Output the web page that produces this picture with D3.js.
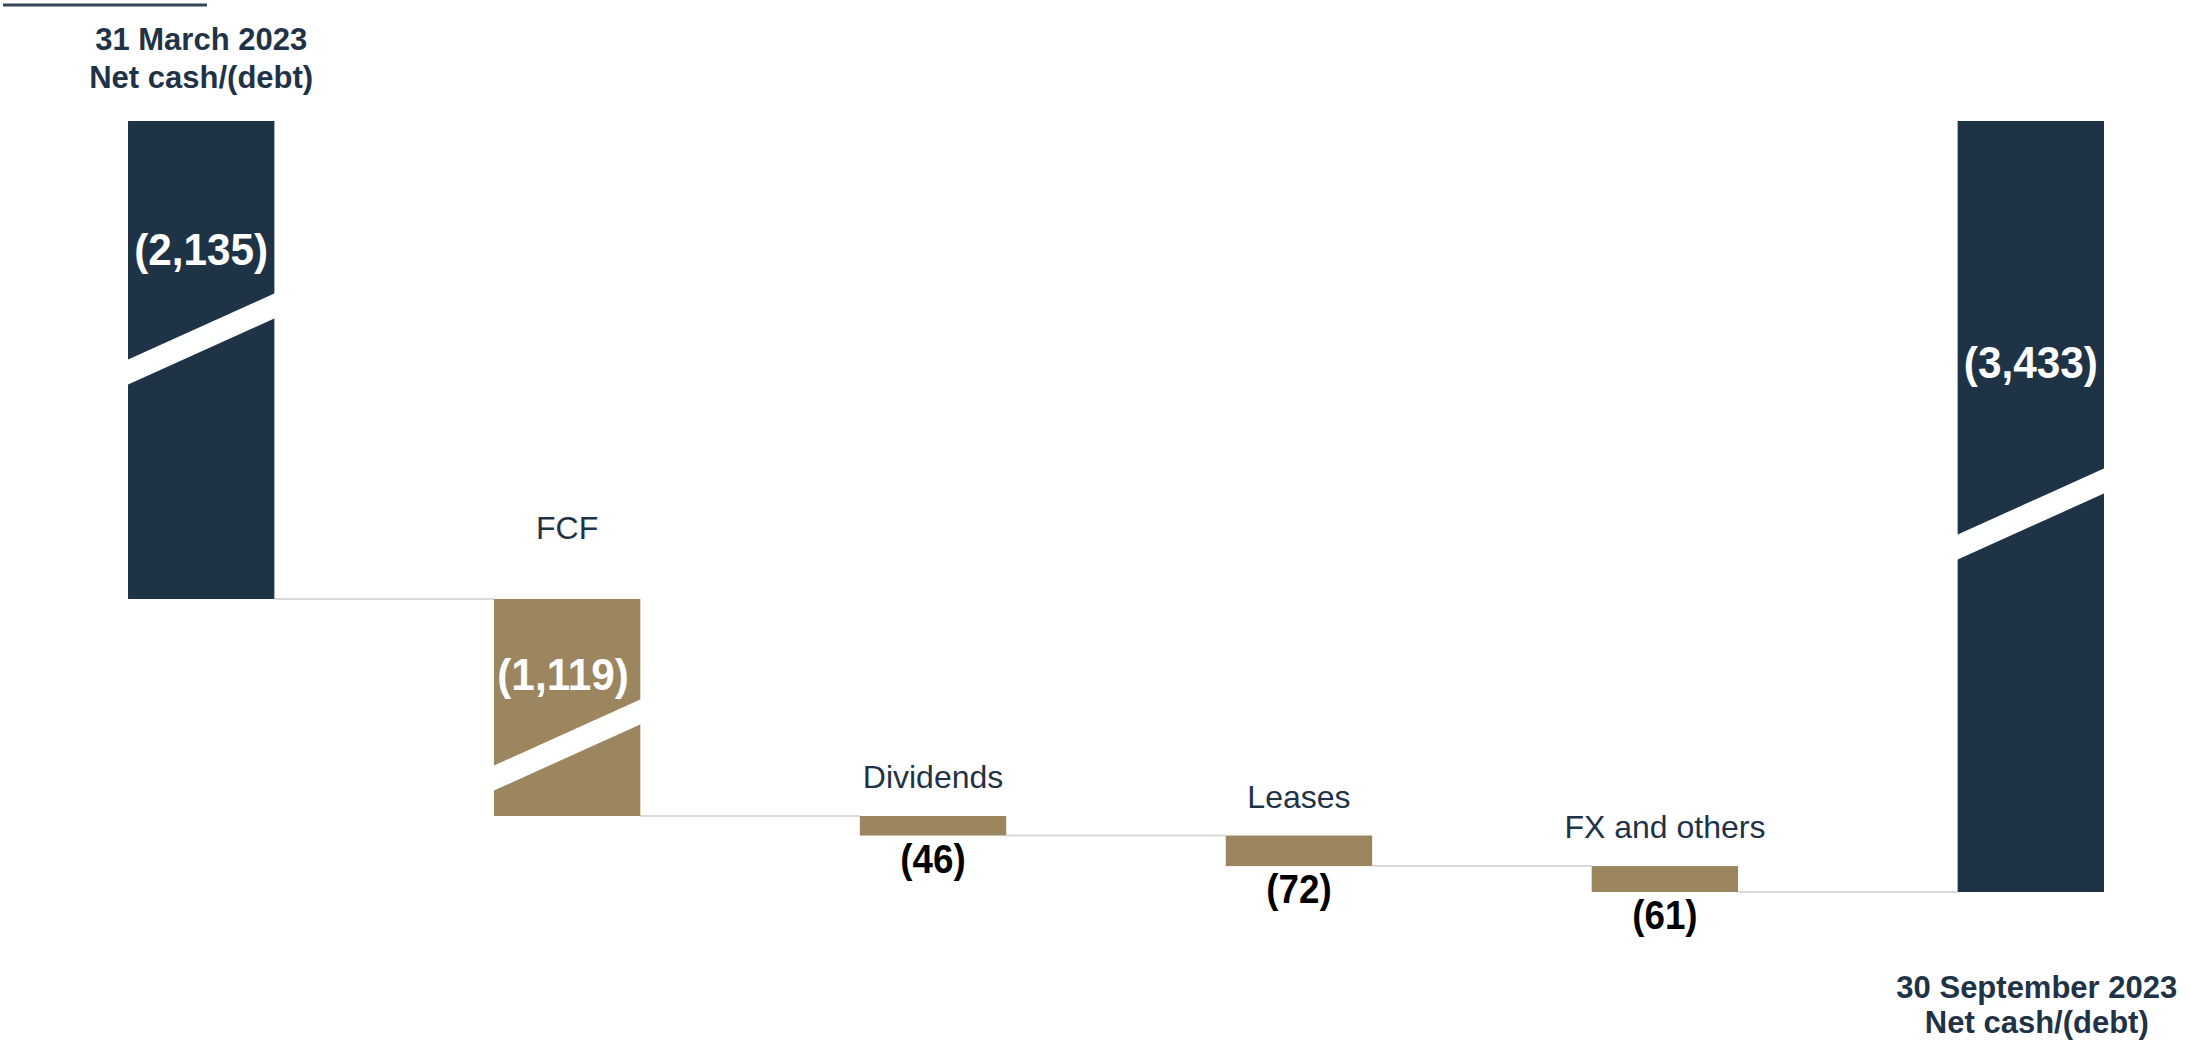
<!DOCTYPE html>
<meta charset="utf-8">
<style>
	body { margin: 0; background: #fff; }
	svg { display: block; }
	text { font-family: "Liberation Sans", Arial, sans-serif; }
</style>
<svg width="2188" height="1044"></svg>
<script src="https://d3js.org/d3.v7.min.js"></script>
<script>
	// data
	var categories = ['31 March 2023', 'FCF', 'Dividends', 'Leases', 'FX and others', '30 September 2023']
	var values = [-2135, -1119, -46, -72, -61, -3433]
	var kinds = ['total', 'delta', 'delta', 'delta', 'delta', 'total']
	var valueLabels = ['(2,135)', '(1,119)', '(46)', '(72)', '(61)', '(3,433)']
	var subTitle = 'Net cash/(debt)'

	var navy = '#1F3347',
		gold = '#9B8660'

	var svg = d3.select('svg'),
		width = +svg.attr('width'),
		height = +svg.attr('height')

	// waterfall start / end of every bar
	var cum = 0
	var bars = categories.map(function (c, i) {
		var d = { name: c, kind: kinds[i], value: values[i], label: valueLabels[i], idx: i }
		if (kinds[i] === 'total') {
			d.y0 = 0
			d.y1 = values[i]
			cum = values[i]
		} else {
			d.y0 = cum
			d.y1 = cum + values[i]
			cum = d.y1
		}
		return d
	})

	var x = d3.scaleBand().domain(categories).range([128, 2104]).paddingInner(0.6).paddingOuter(0)

	// broken axis: the two big segments are squeezed, the small moves stay linear
	var plotTop = 121,
		seg1 = 478,
		seg2 = 217,
		pxPerUnit = 0.4246
	var yDomain = [0, bars[0].y1, bars[1].y1, bars[bars.length - 1].y1]
	var y = d3.scaleLinear()
		.domain(yDomain)
		.range([plotTop, plotTop + seg1, plotTop + seg1 + seg2, plotTop + seg1 + seg2 + (yDomain[2] - yDomain[3]) * pxPerUnit])

	var g = svg.append('g')

	// little rule top left
	g.append('line')
		.attr('x1', 3).attr('x2', 207)
		.attr('y1', 5).attr('y2', 5)
		.attr('stroke', '#34465a')
		.attr('stroke-width', 3)

	// connectors
	g.selectAll('.conn')
		.data(bars.slice(0, -1))
		.enter()
		.append('line')
		.attr('class', 'conn')
		.attr('x1', function (d) { return x(d.name) + x.bandwidth() })
		.attr('x2', function (d) { return x(categories[d.idx + 1]) })
		.attr('y1', function (d) { return y(d.y1) })
		.attr('y2', function (d) { return y(d.y1) })
		.attr('stroke', '#d9d9d9')
		.attr('stroke-width', 2)

	// bars
	g.selectAll('.bar')
		.data(bars)
		.enter()
		.append('rect')
		.attr('class', 'bar')
		.attr('x', function (d) { return x(d.name) })
		.attr('width', x.bandwidth())
		.attr('y', function (d) { return Math.min(y(d.y0), y(d.y1)) })
		.attr('height', function (d) { return Math.abs(y(d.y1) - y(d.y0)) })
		.attr('fill', function (d) { return d.kind === 'total' ? navy : gold })

	// break marks (offset from bar top in px) and white labels
	var breakAt = { 0: 218, 1: 146, 5: 393 }
	var labelAt = { 0: 144, 1: 91, 5: 257 }
	var labelShift = { 0: 0, 1: -4, 5: 0 }
	var band = 25,
		rise = 67

	Object.keys(breakAt).forEach(function (k) {
		var d = bars[k]
		var x0 = x(d.name) - 1,
			x1 = x(d.name) + x.bandwidth() + 1
		var yc = y(d.y0) + breakAt[k]
		var pts = [
			[x0, yc - band / 2 + rise / 2],
			[x1, yc - band / 2 - rise / 2],
			[x1, yc + band / 2 - rise / 2],
			[x0, yc + band / 2 + rise / 2]
		]
		g.append('polygon')
			.attr('points', pts.map(function (p) { return p.join(',') }).join(' '))
			.attr('fill', '#fff')

		var cx = x(d.name) + x.bandwidth() / 2 + labelShift[k]
		g.append('text')
			.attr('transform', 'translate(' + cx + ',' + (y(d.y0) + labelAt[k]) + ') scale(0.94,1)')
			.attr('text-anchor', 'middle')
			.attr('fill', '#fff')
			.attr('font-weight', 'bold')
			.attr('font-size', 45)
			.text(d.label)
	})

	// category names above the moves
	var deltas = bars.filter(function (d) { return d.kind === 'delta' })
	g.selectAll('.cat')
		.data(deltas)
		.enter()
		.append('text')
		.attr('class', 'cat')
		.attr('x', function (d) { return x(d.name) + x.bandwidth() / 2 })
		.attr('y', function (d) { return y(d.y0) - (d.idx === 1 ? 60 : 28) })
		.attr('text-anchor', 'middle')
		.attr('fill', navy)
		.attr('font-size', 32)
		.text(function (d) { return d.name })

	// black values under the small moves
	g.selectAll('.val')
		.data(deltas.filter(function (d) { return d.idx > 1 }))
		.enter()
		.append('text')
		.attr('class', 'val')
		.attr('transform', function (d) {
			return 'translate(' + (x(d.name) + x.bandwidth() / 2) + ',' + (y(d.y1) + 37) + ') scale(0.92,1)'
		})
		.attr('text-anchor', 'middle')
		.attr('fill', '#000')
		.attr('font-weight', 'bold')
		.attr('font-size', 40)
		.text(function (d) { return d.label })

	// headings of the two totals
	var first = bars[0],
		last = bars[bars.length - 1]
	var head = g.append('text')
		.attr('text-anchor', 'middle')
		.attr('fill', navy)
		.attr('font-weight', 'bold')
		.attr('font-size', 31)
	head.append('tspan').attr('x', x(first.name) + x.bandwidth() / 2).attr('y', 50).text(first.name)
	head.append('tspan').attr('x', x(first.name) + x.bandwidth() / 2).attr('y', 88).text(subTitle)

	var foot = g.append('text')
		.attr('text-anchor', 'middle')
		.attr('fill', navy)
		.attr('font-weight', 'bold')
		.attr('font-size', 31)
	foot.append('tspan').attr('x', x(last.name) + x.bandwidth() / 2 + 6).attr('y', y(last.y1) + 106).text(last.name)
	foot.append('tspan').attr('x', x(last.name) + x.bandwidth() / 2 + 6).attr('y', y(last.y1) + 141).text(subTitle)
</script>
